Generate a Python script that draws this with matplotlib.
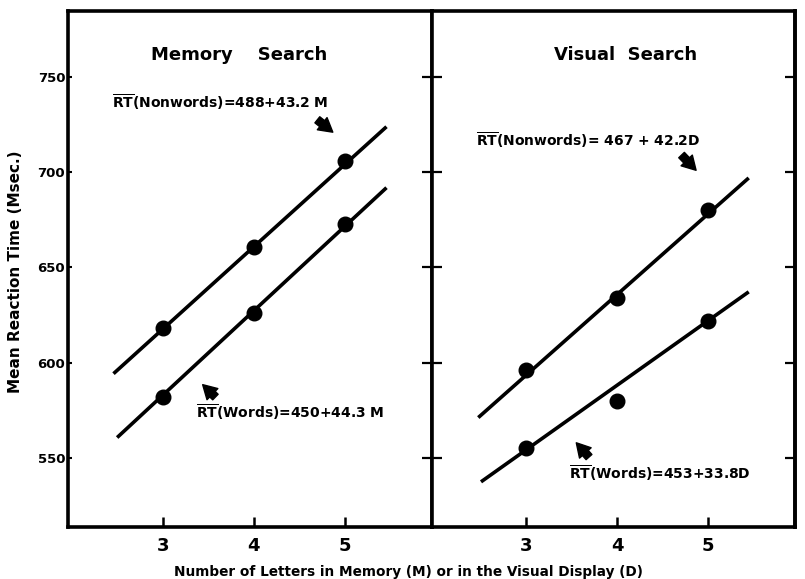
import matplotlib
matplotlib.use("Agg")
import matplotlib.pyplot as plt
import numpy as np

plt.rcParams['font.family'] = ['DejaVu Sans']
plt.rcParams['mathtext.fontset'] = 'dejavusans'

# ---- data ----
set_sizes = [3, 4, 5]
mem_nonwords = [618, 661, 706]
mem_words = [582, 626, 673]
vis_nonwords = [596, 634, 680]
vis_words = [555, 580, 622]

# fitted equations printed in the figure (intercept, slope)
mem_nonwords_fit = (488, 43.2)
mem_words_fit = (450, 44.3)
vis_nonwords_fit = (467, 42.2)
vis_words_fit = (453, 33.8)

# x extent of drawn regression lines
mem_nonwords_span = (2.46, 5.46)
mem_words_span = (2.50, 5.46)
vis_nonwords_span = (2.47, 5.45)
vis_words_span = (2.50, 5.45)

y_ticks = [550, 600, 650, 700, 750]
x_ticks = [3, 4, 5]

mem_title = "Memory    Search"
vis_title = "Visual  Search"
mem_nonwords_eq = r"$\overline{\mathbf{RT}}$(Nonwords)=488+43.2 M"
mem_words_eq = r"$\overline{\mathbf{RT}}$(Words)=450+44.3 M"
vis_nonwords_eq = r"$\overline{\mathbf{RT}}$(Nonwords)= 467 + 42.2D"
vis_words_eq = r"$\overline{\mathbf{RT}}$(Words)=453+33.8D"
y_label = "Mean Reaction Time (Msec.)"
x_label = "Number of Letters in Memory (M) or in the Visual Display (D)"

# ---- figure ----
fig = plt.figure(figsize=(8.05, 5.79), dpi=100)
ax1 = fig.add_axes([68/805, 1-527/579, 364/805, 516/579])
ax2 = fig.add_axes([432/805, 1-527/579, 363/805, 516/579])

XLIM = (1.96, 5.96)
YLIM = (513.8, 784.6)

def fit_line(ax, fit, span):
    xs = np.array(span)
    ax.plot(xs, fit[0] + fit[1]*xs, color='black', lw=2.6, solid_capstyle='butt', zorder=2)

for ax in (ax1, ax2):
    ax.set_xlim(*XLIM)
    ax.set_ylim(*YLIM)
    for s in ax.spines.values():
        s.set_linewidth(2.6)
    ax.set_xticks(x_ticks)
    ax.set_xticklabels([str(t) for t in x_ticks], fontsize=13, fontweight='bold')
    ax.tick_params(axis='x', direction='in', length=7, width=1.8, pad=7)
    ax.set_yticks(y_ticks)

fit_line(ax1, mem_nonwords_fit, mem_nonwords_span)
fit_line(ax1, mem_words_fit, mem_words_span)
ax1.plot(set_sizes, mem_nonwords, 'o', color='black', ms=10.5, zorder=3)
ax1.plot(set_sizes, mem_words, 'o', color='black', ms=10.5, zorder=3)

fit_line(ax2, vis_nonwords_fit, vis_nonwords_span)
fit_line(ax2, vis_words_fit, vis_words_span)
ax2.plot(set_sizes, vis_nonwords, 'o', color='black', ms=10.5, zorder=3)
ax2.plot(set_sizes, vis_words, 'o', color='black', ms=10.5, zorder=3)

# y ticks
ax1.set_yticklabels([str(t) for t in y_ticks], fontsize=9.5, fontweight='bold')
ax1.tick_params(axis='y', direction='in', length=3, width=1.5, pad=2)
ax2.tick_params(axis='y', left=True, right=False, labelleft=False,
                direction='inout', length=14, width=1.6)
sec = ax2.secondary_yaxis('right')
sec.set_yticks(y_ticks)
sec.tick_params(axis='y', direction='in', length=7, width=1.6, labelright=False)
sec.spines['right'].set_linewidth(2.6)

# titles
ax1.text(0.47, 0.915, mem_title, transform=ax1.transAxes, ha='center', va='center',
         fontsize=13, fontweight='bold')
ax2.text(0.534, 0.915, vis_title, transform=ax2.transAxes, ha='center', va='center',
         fontsize=13, fontweight='bold')

# equations
eq_kw = dict(fontsize=10, fontweight='bold', ha='left', va='center')
ax1.text(2.44, 736.5, mem_nonwords_eq, **eq_kw)
ax1.text(3.37, 574.0, mem_words_eq, **eq_kw)
ax2.text(2.45, 717.0, vis_nonwords_eq, **eq_kw)
ax2.text(3.47, 542.0, vis_words_eq, **eq_kw)

arrow_kw = dict(arrowstyle='simple,head_length=0.7,head_width=0.8,tail_width=0.4',
                fc='black', ec='black', shrinkA=0, shrinkB=0, mutation_scale=14)
ax1.annotate('', xy=(4.87, 721.0), xytext=(4.70, 727.5), arrowprops=arrow_kw)
ax1.annotate('', xy=(3.44, 588.5), xytext=(3.58, 582.0), arrowprops=arrow_kw)
ax2.annotate('', xy=(4.87, 701.0), xytext=(4.71, 709.0), arrowprops=arrow_kw)
ax2.annotate('', xy=(3.55, 558.0), xytext=(3.69, 550.5), arrowprops=arrow_kw)

# labels
fig.text(16/805, 1-272/579, y_label, rotation=90, ha='center', va='center',
         fontsize=11, fontweight='bold')
fig.text(408/805, 1-572/579, x_label, ha='center', va='center',
         fontsize=9.8, fontweight='bold')

fig.savefig("out.png", dpi=100)
